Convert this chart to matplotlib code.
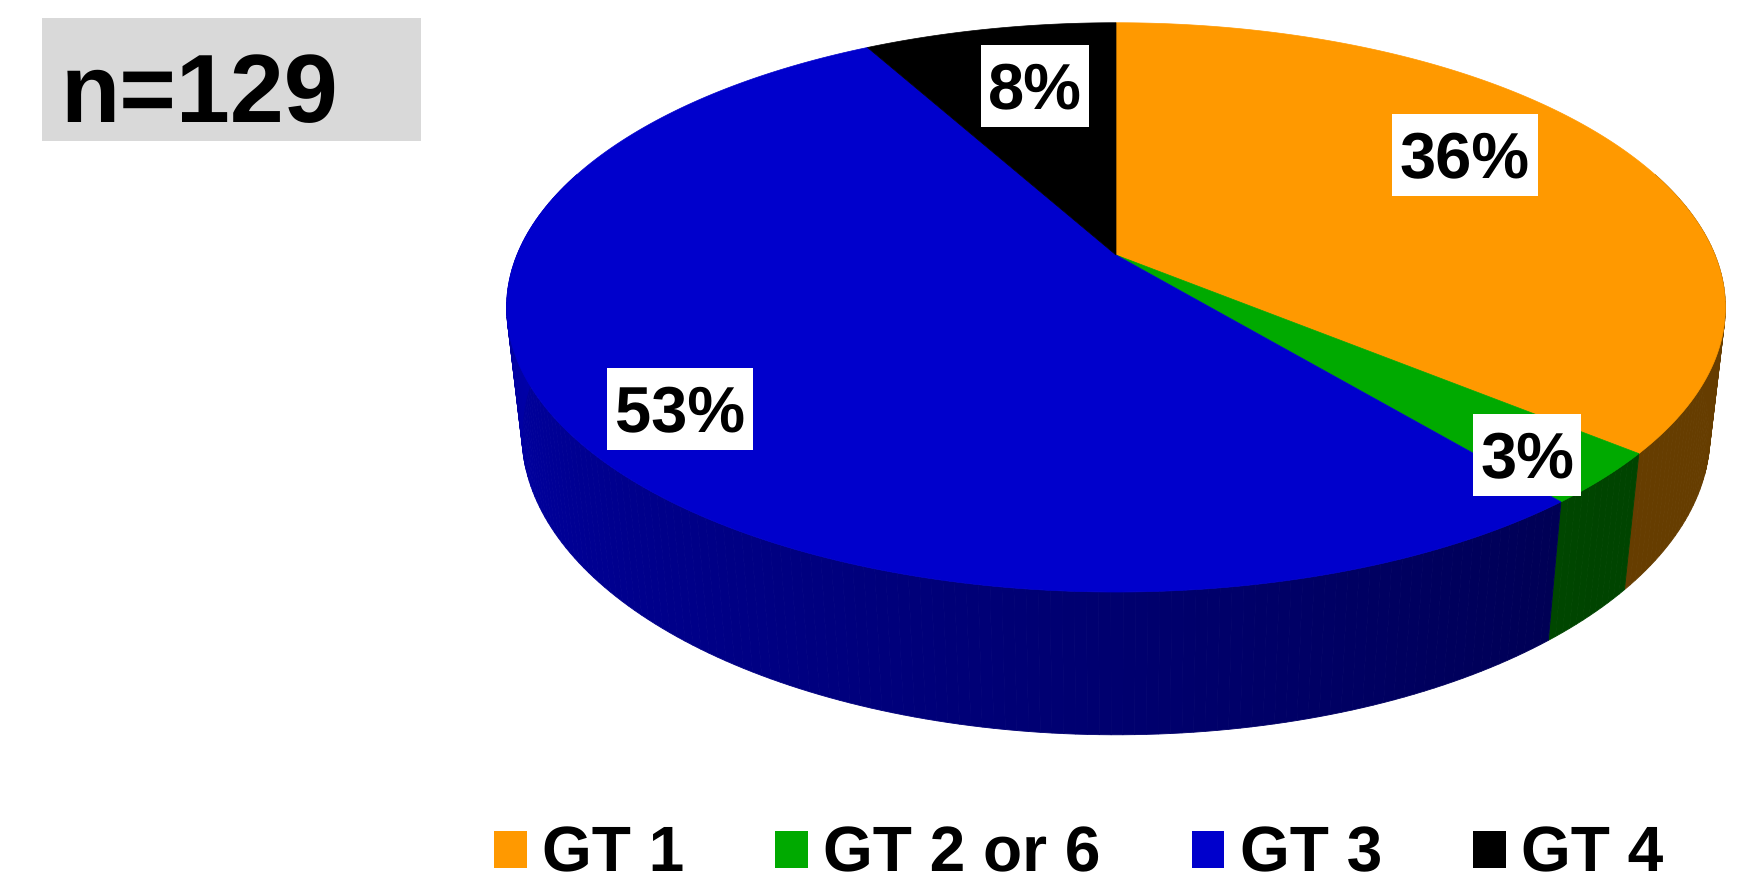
import matplotlib
matplotlib.use("Agg")
import matplotlib.pyplot as plt
from matplotlib.patches import Rectangle
import numpy as np

categories = ["GT 1", "GT 2 or 6", "GT 3", "GT 4"]
values = [36, 3, 53, 8]
colors = ["#FF9900", "#00AA00", "#0000CC", "#000000"]
labels = ["36%", "3%", "53%", "8%"]
sample_label = "n=129"

# label box centres, pixels
label_x = [1465, 1527, 680, 1035]
label_y = [155, 455, 409, 86]

# projection of the disc
cx, cy = 1116, 255
w, h = 599, 275
k = 0.184
d = 1.025
depth = 128.5


def top_xy(a):
    X, Y = np.sin(a), np.cos(a)
    den = 1 + k * Y
    return cx + w * X / den, cy - h * Y / den


def bottom_xy(a):
    X, Y = np.sin(a), np.cos(a)
    den = d + k * Y
    return cx + w * X / den, cy + (depth - h * Y) / den


def shade(a):
    # side wall gets darker from left to right
    return np.clip(0.4 + 0.43 * (a - 0.75 * np.pi) / (0.75 * np.pi), 0.4, 0.83)


plt.rcParams["font.family"] = ["Liberation Sans", "DejaVu Sans"]
plt.rcParams["font.weight"] = "bold"
plt.rcParams["text.hinting"] = "no_hinting"
plt.rcParams["text.hinting_factor"] = 1

fig = plt.figure(figsize=(17.52, 8.73), dpi=100)
ax = fig.add_axes([0, 0, 1, 1])
ax.set_xlim(0, 1752)
ax.set_ylim(873, 0)
ax.axis("off")

ends = np.cumsum(values) / np.sum(values) * 2 * np.pi
starts = np.r_[0, ends[:-1]]

# side walls first, front part only
for s, e, c in zip(starts, ends, colors):
    lo, hi = max(s, np.pi * 0.4), min(e, np.pi * 1.6)
    if hi <= lo:
        continue
    base = np.array(matplotlib.colors.to_rgb(c))
    edges = np.linspace(lo, hi, int((hi - lo) * 60) + 2)
    for a0, a1 in zip(edges[:-1], edges[1:]):
        x0, y0 = top_xy(a0)
        x1, y1 = top_xy(a1)
        x2, y2 = bottom_xy(a1)
        x3, y3 = bottom_xy(a0)
        col = base * shade((a0 + a1) / 2)
        ax.fill([x0, x1, x2, x3], [y0, y1, y2, y3], color=col, lw=0.6)

# top of the pie
for s, e, c in zip(starts, ends, colors):
    a = np.linspace(s, e, 200)
    x, y = top_xy(a)
    ax.fill(np.r_[cx, x], np.r_[cy, y], color=c, lw=0.5)

fig.canvas.draw()
renderer = fig.canvas.get_renderer()
for lab, lx, ly in zip(labels, label_x, label_y):
    t = ax.text(lx, ly, lab, fontsize=47, ha="center", va="center_baseline", zorder=6)
    bw = t.get_window_extent(renderer).width + 15
    ax.add_patch(Rectangle((lx - bw / 2, ly - 41), bw, 82, fc="white", ec="none", zorder=5))

ax.add_patch(Rectangle((41.5, 18), 379.5, 123, fc="#D9D9D9", ec="none"))
ax.text(61, 122, sample_label, fontsize=69.7, ha="left", va="baseline")

handles = [Rectangle((0, 0), 1, 1, fc=c, ec="none") for c in colors]
ax.legend(handles, categories, ncol=4, frameon=False, fontsize=45.9,
          loc="lower left", bbox_to_anchor=(494, 885), bbox_transform=ax.transData,
          borderpad=0, borderaxespad=0, handlelength=0.515, handleheight=0.515,
          handletextpad=0.24, columnspacing=1.425)

fig.savefig("out.png", dpi=100)
